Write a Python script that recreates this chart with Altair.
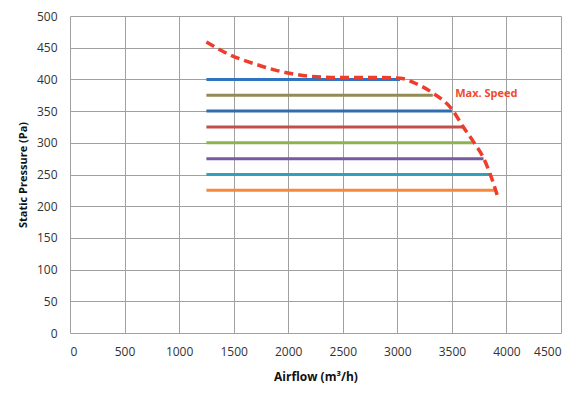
import altair as alt
import pandas as pd

# Constant-pressure lines
pressures = [400, 375, 350, 325, 300, 275, 250, 225]
line_start = [1250, 1250, 1250, 1250, 1250, 1250, 1250, 1250]
line_end = [3025, 3325, 3500, 3600, 3700, 3790, 3850, 3890]
line_colors = ["#2f74c0", "#948a54", "#2e6db0", "#c0504d", "#8fb24f", "#7a5a9e", "#2fa1b8", "#f58a3c"]

# Max speed curve
curve_x = [1250, 1450, 1700, 2000, 2200, 2500, 2800, 3025, 3150, 3330, 3500, 3600, 3700, 3790, 3850, 3920]
curve_y = [459, 440, 424, 410, 405, 403, 403, 402, 395, 378, 353, 326, 301, 276, 251, 215]

x_ticks = [0, 500, 1000, 1500, 2000, 2500, 3000, 3500, 4000, 4500]
y_ticks = [0, 50, 100, 150, 200, 250, 300, 350, 400, 450, 500]

rows = []
for i, p in enumerate(pressures):
    rows.append({"series": f"{p} Pa", "order": 0, "x": line_start[i], "y": p})
    rows.append({"series": f"{p} Pa", "order": 1, "x": line_end[i], "y": p})
lines_df = pd.DataFrame(rows)
curve_df = pd.DataFrame({"x": curve_x, "y": curve_y, "order": list(range(len(curve_x)))})
label_df = pd.DataFrame({"x": [3530], "y": [377], "text": ["Max. Speed"]})

xscale = alt.Scale(domain=[0, 4500], nice=False, zero=False)
yscale = alt.Scale(domain=[0, 500], nice=False)

xaxis = alt.Axis(values=x_ticks, format="d", title="Airflow (m³/h)", grid=True, gridColor="#a0a0a0",
                 gridWidth=1, domain=False, ticks=False, labelPadding=13, labelFontSize=12,
                 labelColor="#333333", titleFontSize=12, titleFontWeight="bold", labelOverlap=False,
                 titleColor="#111111", titlePadding=14, labelFont="Open Sans", titleFont="Open Sans")
yaxis = alt.Axis(values=y_ticks, format="d", title="Static Pressure (Pa)", grid=True, gridColor="#a0a0a0",
                 gridWidth=1, domain=False, ticks=False, labelPadding=13, labelFontSize=12,
                 labelColor="#333333", titleFontSize=11, titleFontWeight="bold", labelOverlap=False,
                 titleColor="#111111", titlePadding=8, labelFont="Open Sans", titleFont="Open Sans")

X = alt.X("x:Q", scale=xscale, axis=xaxis)
Y = alt.Y("y:Q", scale=yscale, axis=yaxis)

series_names = [f"{p} Pa" for p in pressures]

lines = alt.Chart(lines_df).mark_line(strokeWidth=3).encode(
    x=X, y=Y,
    color=alt.Color("series:N", scale=alt.Scale(domain=series_names, range=line_colors), legend=None),
    order="order:O",
)

curve = alt.Chart(curve_df).mark_line(strokeWidth=3.5, strokeDash=[9, 5], color="#f03c2a",
                                      interpolate="monotone").encode(
    x=X, y=Y, order="order:O",
)

label = alt.Chart(label_df).mark_text(align="left", baseline="middle", color="#f04a2e",
                                      fontSize=11, fontWeight="bold", font="Open Sans").encode(
    x=X, y=Y, text="text:N",
)

chart = (lines + curve + label).properties(
    width=491, height=317,
    autosize=alt.AutoSizeParams(type="none"),
    padding={"left": 62, "top": 8, "right": 10, "bottom": 50},
).configure_view(stroke=None)

chart.save("out.html", embed_options={"renderer": "svg", "actions": False})
